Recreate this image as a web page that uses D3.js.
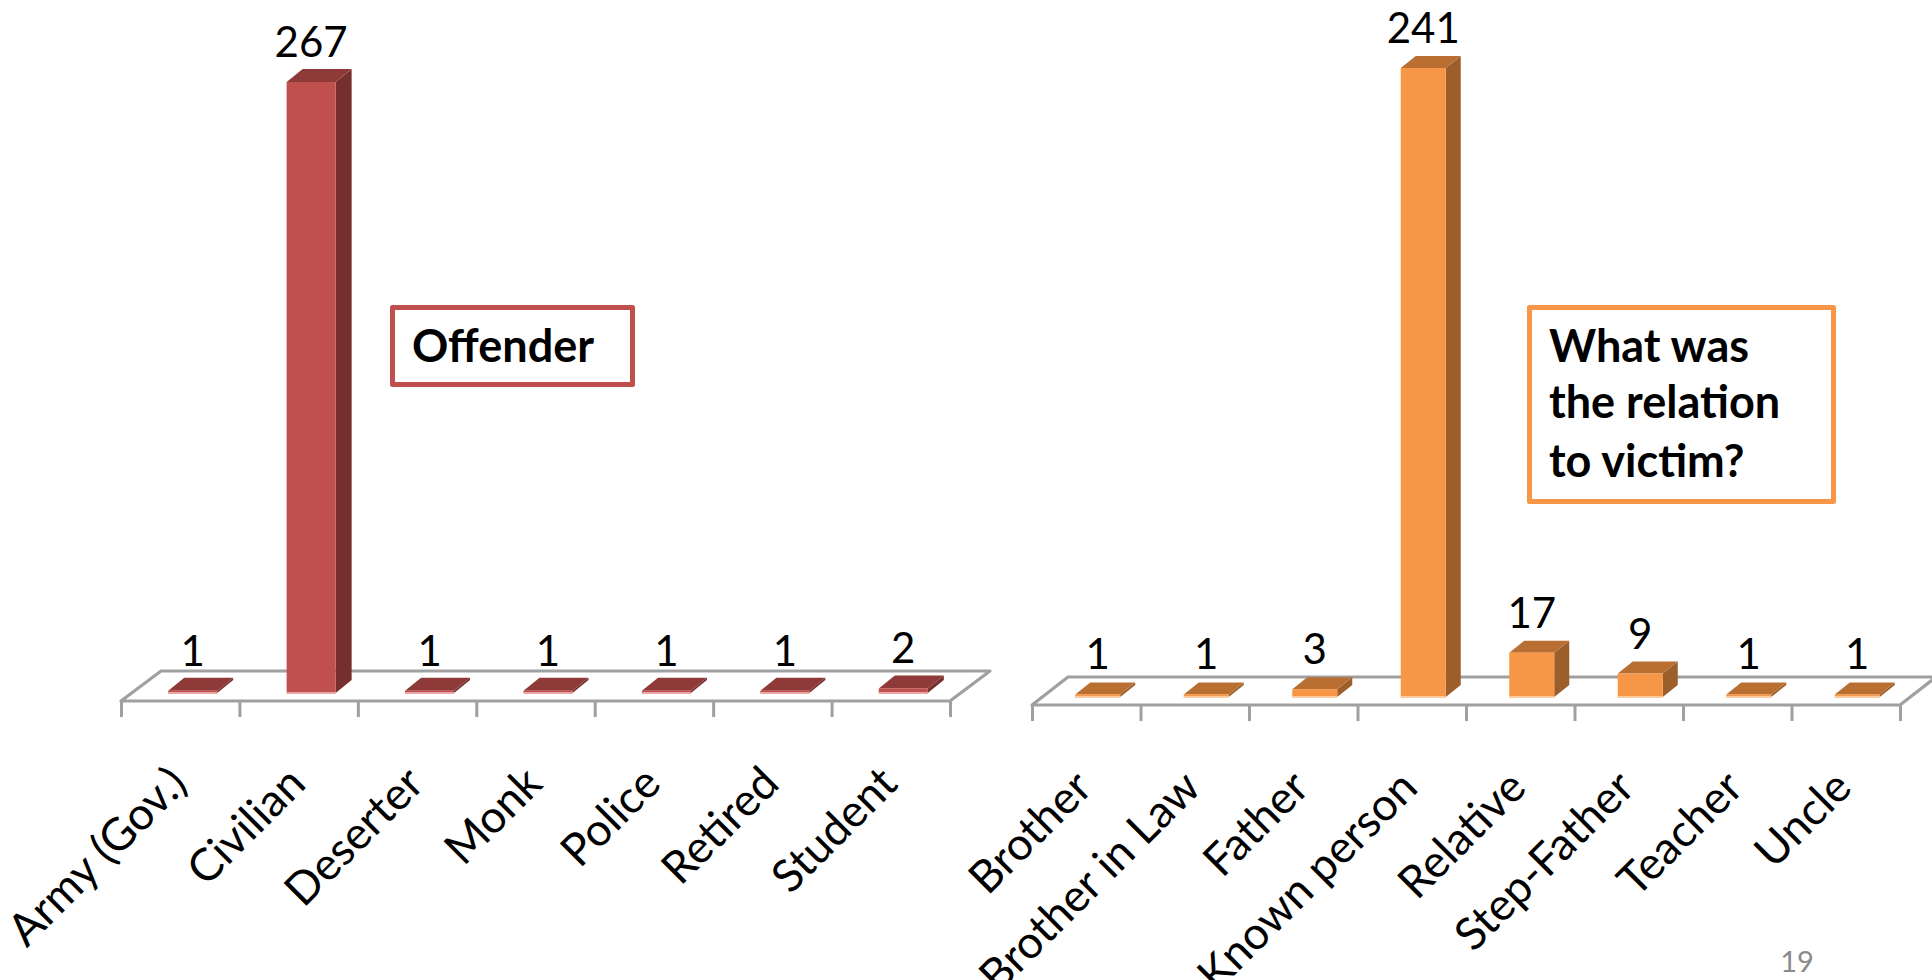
<!DOCTYPE html>
<html>
<head>
<meta charset="utf-8">
<script src="https://cdnjs.cloudflare.com/ajax/libs/d3/7.8.5/d3.min.js"></script>
<style>
html,body{margin:0;padding:0;background:#fff;overflow:hidden}
svg{display:block}
text{font-family:Lato,"Open Sans",sans-serif;fill:#000}
</style>
</head>
<body>
<svg id="c" width="1932" height="980"></svg>
<script>
const offenderCategories = ["Army (Gov.)","Civilian","Deserter","Monk","Police","Retired","Student"];
const offenderValues = [1,267,1,1,1,1,2];
const relationCategories = ["Brother","Brother in Law","Father","Known person","Relative","Step-Father","Teacher","Uncle"];
const relationValues = [1,1,3,241,17,9,1,1];
const offenderTitle = ["Offender"];
const relationTitle = ["What was","the relation","to victim?"];
const pageNumber = "19";

const svg = d3.select("#c");

function chart(o){
  const g = svg.append("g");
  const x = d3.scaleBand().domain(o.cats).range([o.x0,o.x1]).padding(0);
  const y = d3.scaleLinear().domain([0,o.vmax]).range([o.base,o.top]);
  const floorDx=o.fdx, floorDy=o.fdy, grey="#a0a0a0";

  // floor
  g.append("path")
    .attr("d",`M${o.x0},${o.axisY}L${o.x0+floorDx},${o.axisY-floorDy}L${o.x1+floorDx},${o.axisY-floorDy}L${o.x1},${o.axisY}Z`)
    .attr("fill","#fff").attr("stroke",grey).attr("stroke-width",3.2).attr("stroke-linejoin","round");
  const axisScale = d3.scaleLinear().domain([0,o.cats.length]).range([o.x0,o.x1]);
  const axis = d3.axisBottom(axisScale).tickValues(d3.range(o.cats.length+1)).tickSize(o.tick).tickSizeOuter(0).tickFormat("");
  const ag = g.append("g").attr("transform",`translate(0,${o.axisY})`).call(axis);
  ag.select(".domain").remove();
  ag.selectAll("line").attr("stroke",grey).attr("stroke-width",3);

  // bars
  const w=o.barW, dx=o.dx, dy=o.dy;
  const bars = g.selectAll("g.bar").data(o.vals).join("g").attr("class","bar");
  const left=(d,i)=>x(o.cats[i])+x.bandwidth()/2+o.shift-w/2;
  bars.append("path").attr("fill",o.side)
    .attr("d",(d,i)=>{const l=left(d,i)+w,t=y(d),b=y(0);return `M${l},${t}L${l+dx},${t-dy}L${l+dx},${b-dy}L${l},${b}Z`;});
  bars.append("path").attr("fill",o.topc)
    .attr("d",(d,i)=>{const l=left(d,i),t=y(d);return `M${l},${t}L${l+dx},${t-dy}L${l+w+dx},${t-dy}L${l+w},${t}Z`;});
  bars.append("rect").attr("fill",o.front)
    .attr("x",left).attr("y",d=>y(d)).attr("width",w).attr("height",d=>y(0)-y(d));
  bars.append("rect").attr("fill",o.edge)
    .attr("x",left).attr("y",y(0)-1).attr("width",w).attr("height",2);
  bars.append("text").attr("text-anchor","middle")
    .attr("x",(d,i)=>left(d,i)+w/2).attr("y",d=>y(d)-25)
    .attr("font-size",42).text(d=>d);

  // category labels
  g.selectAll("text.cat").data(o.cats).join("text").attr("class","cat")
    .attr("text-anchor","end").attr("font-size",o.catSize)
    .attr("transform",d=>`translate(${x(d)+x.bandwidth()/2+o.catDx},${o.catY}) rotate(-45)`)
    .text(d=>d);
}

chart({cats:offenderCategories,vals:offenderValues,vmax:267,x0:121,x1:950,base:693,top:82,axisY:701,tick:16,
  fdx:40,fdy:30,barW:49,shift:12.5,dx:16,dy:13,front:"#C0504D",topc:"#8E3A38",side:"#772F2D",edge:"#E8A6A4",catDx:9,catY:786,catSize:45});
chart({cats:relationCategories,vals:relationValues,vmax:241,x0:1032,x1:1900,base:697,top:68,axisY:705,tick:16,
  fdx:36,fdy:28,barW:45,shift:11.5,dx:15,dy:12,front:"#F79646",topc:"#B96F32",side:"#9C5E2A",edge:"#FBCB9F",catDx:8,catY:790,catSize:45});

function box(x,y,w,h,color,lines,tx,baselines,size){
  const g=svg.append("g");
  g.append("rect").attr("x",x).attr("y",y).attr("width",w).attr("height",h)
    .attr("fill","#fff").attr("stroke",color).attr("stroke-width",5).attr("stroke-linejoin","round");
  g.selectAll("text").data(lines).join("text")
    .attr("x",tx).attr("y",(d,i)=>baselines[i])
    .attr("font-weight",700).attr("font-size",size).text(d=>d);
}
box(392.5,307.5,240,77,"#C0504D",offenderTitle,412,[362],45);
box(1529.5,307.5,304,194,"#F79646",relationTitle,1549,[362,418,477],45);

svg.append("text").attr("x",1797).attr("y",972).attr("text-anchor","middle")
  .attr("font-size",29).style("fill","#8b8b8b").text(pageNumber);
</script>
</body>
</html>
